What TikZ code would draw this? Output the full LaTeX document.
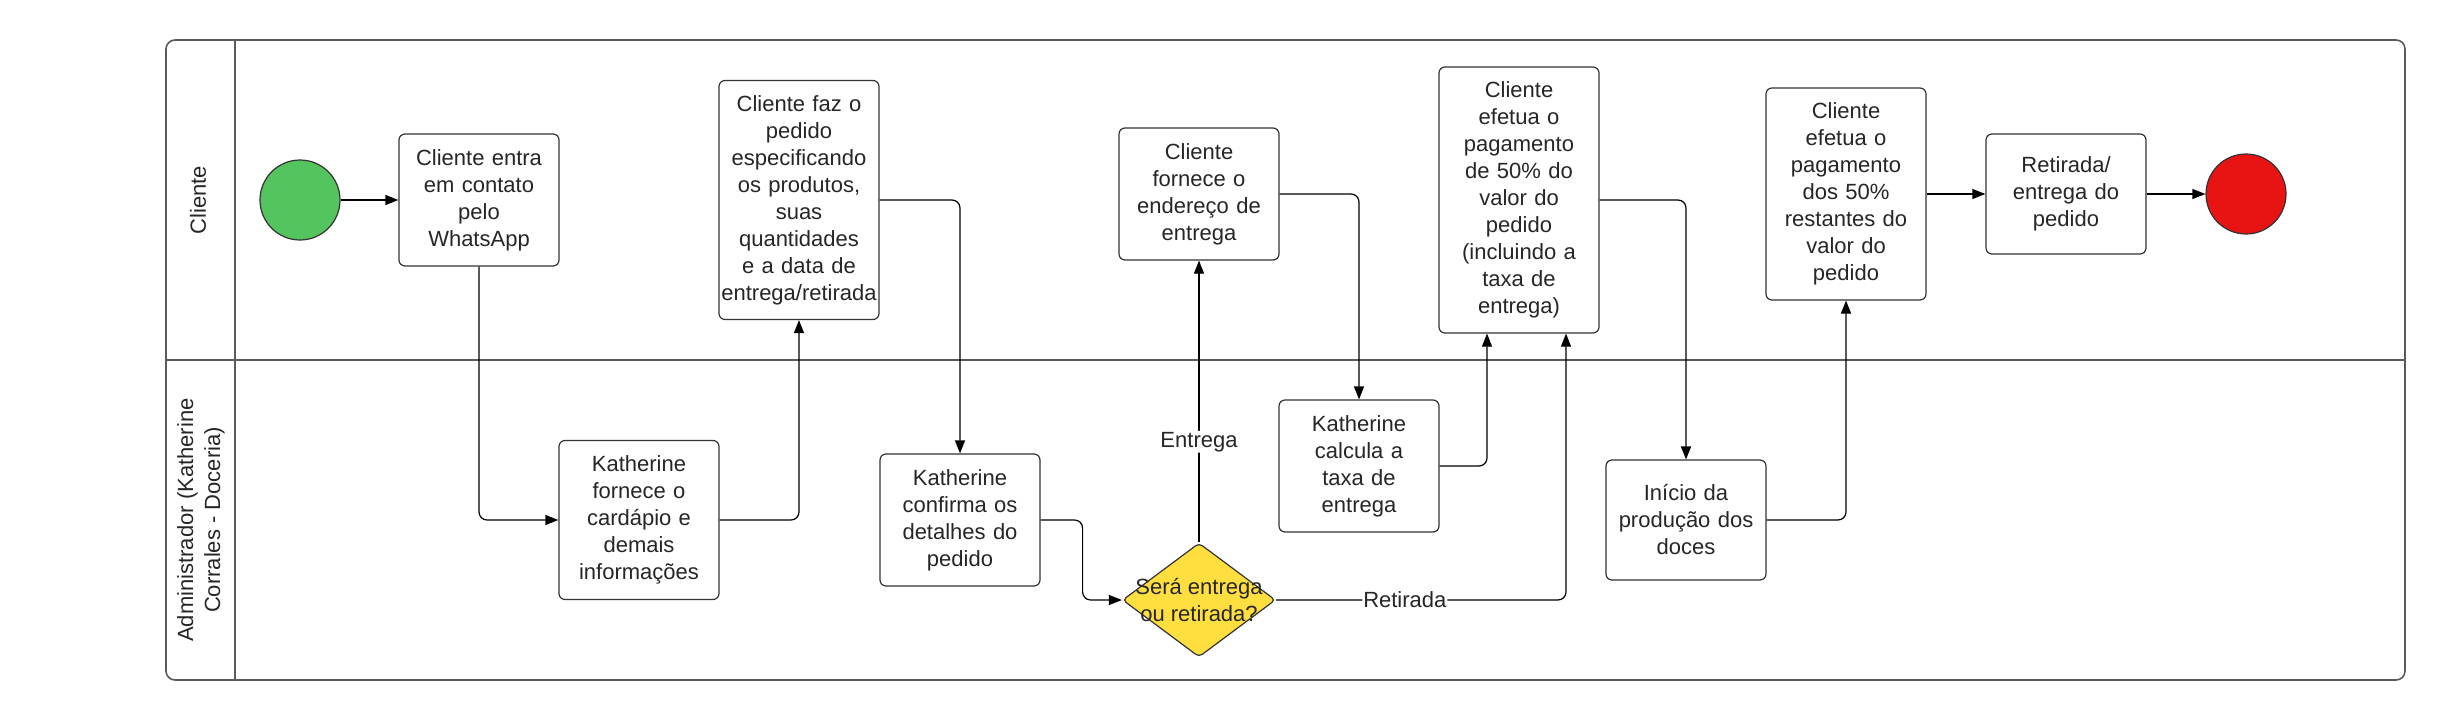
\documentclass[tikz,border=0pt]{standalone}
\usepackage{fontspec}
\setmainfont{Liberation Sans}
\usetikzlibrary{arrows.meta,shapes.geometric}
\definecolor{lineC}{HTML}{333333}
\definecolor{poolC}{HTML}{5A5A5A}
\definecolor{textC}{HTML}{262626}
\definecolor{startC}{HTML}{54C45E}
\definecolor{endC}{HTML}{E81414}
\definecolor{decC}{HTML}{FFDF3F}
\begin{document}
\begin{tikzpicture}[x=1pt,y=-1pt,
  txt/.style={font=\fontsize{22}{27}\selectfont, text=textC},
  task/.style={txt, draw=lineC, line width=1.2pt, rounded corners=6pt, fill=white,
    align=center, text width=160pt, minimum width=160pt, inner sep=0pt},
  evt/.style={circle, draw=lineC, line width=1.2pt, minimum size=80pt, inner sep=0pt},
  conn/.style={draw=black, line width=1.2pt, rounded corners=8pt,
    -{Triangle[length=13pt,width=10pt]}},
  lbl/.style={txt, fill=white, inner sep=1pt},
  lanetxt/.style={txt, rotate=90, align=center},
  pool/.style={draw=poolC, line width=1.6pt},
]
\useasboundingbox (0,0) rectangle (2446,720);
% pool and lanes
\draw[pool, rounded corners=9pt] (166,40) rectangle (2405,680);
\draw[pool] (235,40) -- (235,680);
\draw[pool] (166,360) -- (2405,360);
\node[lanetxt] (lane1) at (198,200) {Cliente};
\node[lanetxt] (lane2) at (201,520) {Administrador (Katherine\\Corrales - Doceria)};

% events
\node[evt, fill=startC] (start) at (300,200) {};
\node[evt, fill=endC] (end) at (2246,194) {};

% tasks lane 1
\node[task, minimum height=132pt] (b1) at (479,200) {Cliente entra\\em contato\\pelo\\WhatsApp};
\node[task, minimum height=239pt] (b3) at (799,200) {Cliente faz o\\pedido\\especificando\\os produtos,\\suas\\quantidades\\e a data de\\entrega/retirada};
\node[task, minimum height=132pt] (fornece) at (1199,194) {Cliente\\fornece o\\endereço de\\entrega};
\node[task, minimum height=266pt] (pag50) at (1519,200) {Cliente\\efetua o\\pagamento\\de 50\% do\\valor do\\pedido\\(incluindo a\\taxa de\\entrega)};
\node[task, minimum height=212pt] (pagR) at (1846,194) {Cliente\\efetua o\\pagamento\\dos 50\%\\restantes do\\valor do\\pedido};
\node[task, minimum height=120pt] (ret) at (2066,194) {Retirada/\\entrega do\\pedido};

% tasks lane 2
\node[task, minimum height=159pt] (b2) at (639,520) {Katherine\\fornece o\\cardápio e\\demais\\informações};
\node[task, minimum height=132pt] (conf) at (960,520) {Katherine\\confirma os\\detalhes do\\pedido};
\node[task, minimum height=132pt] (calc) at (1359,466) {Katherine\\calcula a\\taxa de\\entrega};
\node[task, minimum height=120pt] (ini) at (1686,520) {Início da\\produção dos\\doces};

% decision
\node[diamond, draw=lineC, line width=1.2pt, fill=decC, rounded corners=4pt,
  minimum width=153pt, minimum height=114pt, inner sep=0pt] (dia) at (1199,600) {};
\node[txt, align=center] (diat) at (dia.center) {Será entrega\\ou retirada?};

% connectors
\draw[conn] (start) -- (b1);
\draw[conn] (b1.south) |- (b2.west);
\draw[conn] (b2.east) -| (b3.south);
\draw[conn] (b3.east) -| (conf.north);
\draw[conn] (conf.east) -- ++(42,0) |- (dia.west);
\draw[conn] (dia.north) -- node[lbl, pos=0.357] (lentrega) {Entrega} (fornece.south);
\draw[conn] (fornece.east) -| (calc.north);
\draw[conn] (calc.east) -| ([xshift=-32pt]pag50.south);
\draw[conn] (dia.east) -| node[lbl, pos=0.222] (lretirada) {Retirada} ([xshift=47pt]pag50.south);
\draw[conn] (pag50.east) -| (ini.north);
\draw[conn] (ini.east) -| (pagR.south);
\draw[conn] (pagR.east) -- (ret.west);
\draw[conn] (ret.east) -- (end.west);
\end{tikzpicture}
\end{document}
